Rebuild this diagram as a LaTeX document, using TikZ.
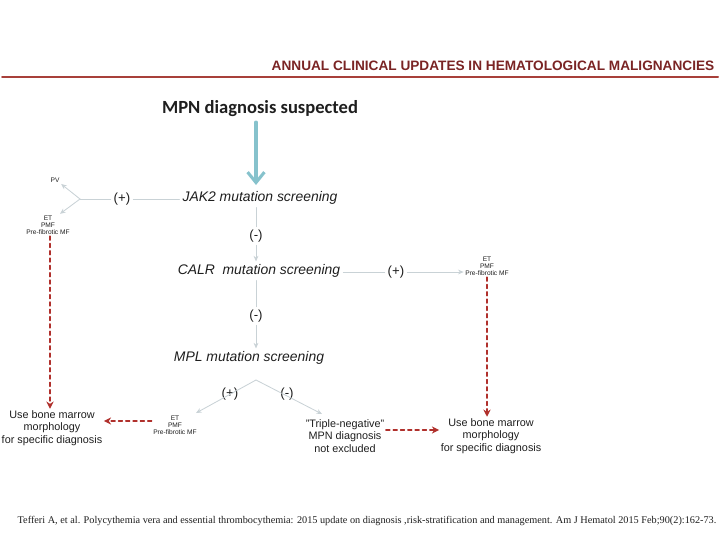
\documentclass[tikz,border=0pt]{standalone}
\usepackage{fontspec}
\setmainfont{Liberation Serif}
\setsansfont{Liberation Sans}
\newfontfamily\calfont{Carlito}
\usepackage{xcolor}
\usepackage{tikz}
\usetikzlibrary{arrows.meta,positioning}
\definecolor{mpnHead}{HTML}{7A2424}
\definecolor{mpnRule}{HTML}{A8403A}
\definecolor{mpnTeal}{HTML}{86C2CC}
\definecolor{mpnLine}{HTML}{C9D2D6}
\definecolor{mpnRed}{HTML}{B0302C}
\definecolor{mpnInk}{HTML}{1E1E1E}
\tikzset{
  mpn diagram/.style={font=\sffamily, text=mpnInk, line cap=round},
  mpn step/.style={font=\sffamily\itshape\fontsize{9.9}{11}\selectfont, inner sep=2pt},
  mpn sign/.style={font=\sffamily\fontsize{9.4}{10}\selectfont, inner sep=2pt},
  mpn small/.style={font=\sffamily\fontsize{4.7}{5.1}\selectfont, align=center, inner sep=1pt},
  mpn note/.style={font=\sffamily\fontsize{7.7}{8.9}\selectfont, align=center, inner sep=1pt},
  mpn link/.style={draw=mpnLine, line width=0.6pt},
  mpn arrow/.style={mpn link, -{Stealth[length=1.4mm,width=1.2mm]}},
  mpn dashed/.style={draw=mpnRed, line width=1pt, dashed, dash pattern=on 2.8pt off 2.4pt,
    -{Stealth[length=1.8mm,width=1.8mm]}}
}
\begin{document}
\begin{tikzpicture}[mpn diagram,x=0.025cm,y=-0.025cm]
\useasboundingbox (0,0) rectangle (720,540);
% header
\node[font=\sffamily\bfseries\fontsize{9.7}{11}\selectfont, text=mpnHead] (head) at (493,66)
  {ANNUAL CLINICAL UPDATES IN HEMATOLOGICAL MALIGNANCIES};
\draw[mpnRule, line width=1.4pt] (2,77) -- (718,77);
\node[font=\calfont\bfseries\fontsize{13.2}{15}\selectfont] (start) at (260,109) {MPN diagnosis suspected};
% JAK2
\node[mpn step] (jak) at (260,198) {JAK2 mutation screening};
\draw[mpnTeal, line width=2.2pt, -{Straight Barb[length=2.6mm,width=4.2mm]}] (start.south -| 256,0) -- (256,185);
\node[mpn sign] (jakpos) at (122,199) {(+)};
\coordinate (jakfork) at (80,199);
\node[mpn small] (pv) at (55,180) {PV};
\node[mpn small] (jaket) at (48,225) {ET\\PMF\\Pre-fibrotic MF};
\draw[mpn link] (jak.west |- jakpos) -- (jakpos.east);
\draw[mpn link] (jakpos.west) -- (jakfork);
\draw[mpn arrow] (jakfork) -- (pv.south east);
\draw[mpn arrow] (jakfork) -- (jaket.north -| 60,0);
\node[mpn note] (leftuse) at (52,428) {Use bone marrow\\morphology\\for specific diagnosis};
\draw[mpn dashed] (jaket.south -| 50,0) -- (leftuse.north -| 50,0);
% CALR
\node[mpn sign] (jakneg) at (256,236) {(-)};
\node[mpn step] (calr) at (259,271) {CALR\ \ mutation screening};
\draw[mpn link] (jak.south -| jakneg) -- (jakneg.north);
\draw[mpn arrow] (jakneg.south) -- (calr.north -| jakneg);
\node[mpn sign] (calrpos) at (396,272) {(+)};
\node[mpn small] (calret) at (487,266) {ET\\PMF\\Pre-fibrotic MF};
\draw[mpn link] (calr.east |- calrpos) -- (calrpos.west);
\draw[mpn arrow] (calrpos.east) -- (calret.west |- calrpos);
\node[mpn note] (rightuse) at (491,436) {Use bone marrow\\morphology\\for specific diagnosis};
\draw[mpn dashed] (calret.south) -- (rightuse.north -| calret);
% MPL
\node[mpn sign] (calrneg) at (256,316) {(-)};
\node[mpn step] (mpl) at (249,358) {MPL mutation screening};
\draw[mpn link] (calr.south -| calrneg) -- (calrneg.north);
\draw[mpn arrow] (calrneg.south) -- (mpl.north -| calrneg);
\coordinate (mplfork) at (256,380);
\node[mpn sign] (mplpos) at (230,394) {(+)};
\node[mpn sign] (mplneg) at (287,394) {(-)};
\node[mpn small] (mplet) at (175,425) {ET\\PMF\\Pre-fibrotic MF};
\node[mpn note] (triple) at (345,436) {"Triple-negative"\\MPN diagnosis\\not excluded};
\draw[mpn arrow] (mplfork) -- (196,413);
\draw[mpn arrow] (mplfork) -- (322,414);
\draw[mpn dashed] (mplet.west |- 0,421) -- (leftuse.east |- 0,421);
\draw[mpn dashed] (triple.east |- 0,430) -- (rightuse.west |- 0,430);
% reference
\node[font=\rmfamily\fontsize{7.3}{9}\selectfont] (cite) at (367,521)
  {Tefferi A, et al. Polycythemia vera and essential thrombocythemia: 2015 update on diagnosis ,risk-stratification and management. Am J Hematol 2015 Feb;90(2):162-73.};
\end{tikzpicture}
\end{document}
